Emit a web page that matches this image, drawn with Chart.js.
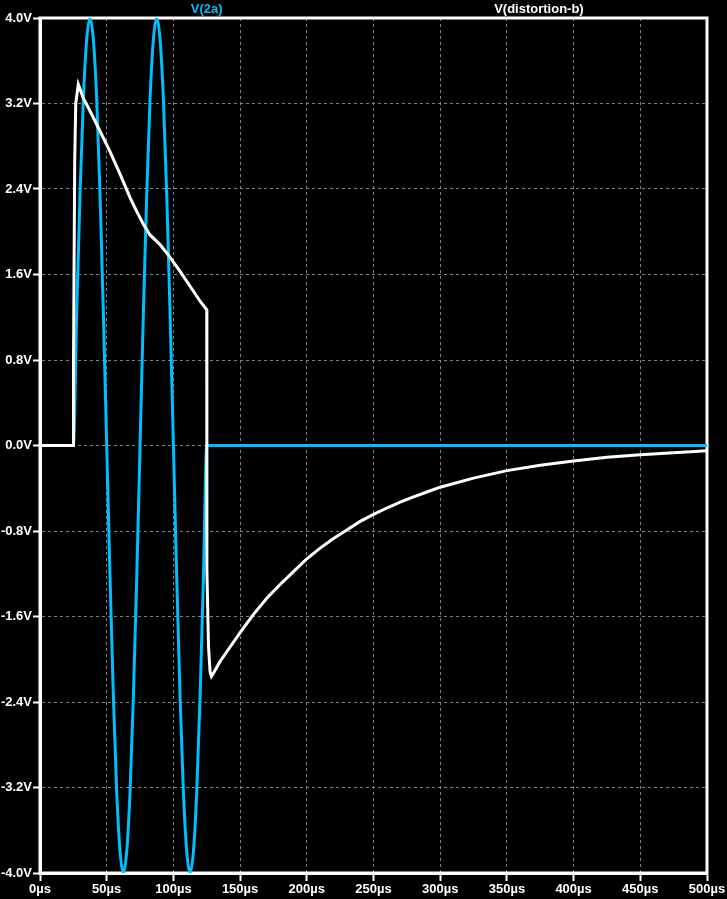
<!DOCTYPE html>
<html>
<head>
<meta charset="utf-8">
<script src="https://cdn.jsdelivr.net/npm/chart.js@4.4.1/dist/chart.umd.min.js"></script>
<style>
  html, body { margin: 0; padding: 0; background: #000; overflow: hidden; }
  canvas { display: block; }
</style>
</head>
<body>
<canvas id="myChart" width="727" height="899"></canvas>
<script>
// trace names (legend text at the top)
const traceNames = ['V(2a)', 'V(distortion-b)'];

// V(distortion-b), white trace: time (µs) and volts
const whiteTime = [0, 24.9, 25, 25.2, 26, 26.8, 28.7, 32.5, 37.5, 45, 52.5, 60, 67.5, 72.5, 77.5,
    82.5, 90, 97.5, 105, 112.5, 120, 125, 125.1, 126.3, 127.5, 128.5, 130, 135, 140, 150, 160, 170,
    180, 190, 200, 210, 220, 230, 240, 250, 260, 270, 280, 290, 300, 325, 350, 375, 400, 425, 450,
    475, 500];
const whiteVolts = [0, 0, 0.74, 0.75, 2.65, 3.2, 3.38, 3.25, 3.13, 2.94, 2.75, 2.54, 2.32, 2.19, 2.07,
    1.97, 1.88, 1.76, 1.63, 1.49, 1.35, 1.27, -1.16, -1.88, -2.12, -2.16, -2.13, -2.02, -1.93, -1.75,
    -1.58, -1.43, -1.30, -1.18, -1.06, -0.96, -0.87, -0.79, -0.71, -0.645, -0.585, -0.53, -0.48,
    -0.435, -0.39, -0.305, -0.235, -0.185, -0.145, -0.11, -0.087, -0.067, -0.05];

// V(2a), blue trace: time (µs) and volts
const blueTime = [0, 25, 27.5, 30, 32.5, 35, 37.5, 40, 42.5, 45, 47.5, 50, 52.5, 55, 57.5, 60, 62.5,
    65, 67.5, 70, 72.5, 75, 77.5, 80, 82.5, 85, 87.5, 90, 92.5, 95, 97.5, 100, 102.5, 105, 107.5,
    110, 112.5, 115, 117.5, 120, 122.5, 125, 500];
const blueVolts = [0, 0, 1.24, 2.35, 3.24, 3.8, 4.0, 3.8, 3.24, 2.35, 1.24, 0, -1.24, -2.35, -3.24,
    -3.8, -4.0, -3.8, -3.24, -2.35, -1.24, 0, 1.24, 2.35, 3.24, 3.8, 4.0, 3.8, 3.24, 2.35, 1.24, 0,
    -1.24, -2.35, -3.24, -3.8, -4.0, -3.8, -3.24, -2.35, -1.24, 0, 0];

// axis ticks
const xTicks = [0, 50, 100, 150, 200, 250, 300, 350, 400, 450, 500];
const yTicks = [-4.0, -3.2, -2.4, -1.6, -0.8, 0.0, 0.8, 1.6, 2.4, 3.2, 4.0];

const blueColor = '#00bfff';
const gridColor = '#808080';
const labelFont = { family: '"Liberation Sans", Arial, sans-serif', size: 13, weight: 'bold' };

function toPoints(xs, ys) {
    return xs.map((x, i) => ({ x: x, y: ys[i] }));
}

// white box around the plot area
const framePlugin = {
    id: 'frame',
    beforeDatasetsDraw(chart) {
        const a = chart.chartArea;
        const c = chart.ctx;
        c.save();
        c.strokeStyle = '#fff';
        c.lineWidth = 3;
        c.strokeRect(a.left, a.top, a.right - a.left, a.bottom - a.top);
        c.restore();
    }
};

// trace names over the plot, LTspice style
const traceNamePlugin = {
    id: 'traceNames',
    afterDraw(chart) {
        const a = chart.chartArea;
        const c = chart.ctx;
        const w = a.right - a.left;
        c.save();
        c.font = `bold ${labelFont.size}px ${labelFont.family}`;
        c.textAlign = 'center';
        c.textBaseline = 'middle';
        c.fillStyle = blueColor;
        c.fillText(traceNames[0], a.left + w * 0.25, 9);
        c.fillStyle = '#fff';
        c.fillText(traceNames[1], a.left + w * 0.748, 9);
        c.restore();
    }
};

const ctx = document.getElementById('myChart').getContext('2d');
const chart = new Chart(ctx, {
    type: 'line',
    data: {
        datasets: [
            {
                label: traceNames[1],
                data: toPoints(whiteTime, whiteVolts),
                borderColor: '#fff',
                borderWidth: 3,
                pointRadius: 0,
                tension: 0,
                fill: false
            },
            {
                label: traceNames[0],
                data: toPoints(blueTime, blueVolts),
                borderColor: blueColor,
                borderWidth: 3,
                pointRadius: 0,
                cubicInterpolationMode: 'monotone',
                fill: false
            }
        ]
    },
    options: {
        responsive: false,
        animation: false,
        layout: { padding: { top: 18, right: 20, left: 0, bottom: 0 } },
        plugins: {
            legend: { display: false },
            tooltip: { enabled: false }
        },
        scales: {
            x: {
                type: 'linear',
                min: 0,
                max: 500,
                afterBuildTicks: s => { s.ticks = xTicks.map(v => ({ value: v })); },
                afterFit: s => { s.height = 26; s.paddingLeft = 0; s.paddingRight = 0; },
                grid: { color: gridColor, lineWidth: 1, tickLength: 8, tickColor: '#fff', tickWidth: 2 },
                border: { color: '#fff', width: 3, dash: [3, 3] },
                ticks: {
                    color: '#fff',
                    font: labelFont,
                    padding: 1,
                    maxRotation: 0,
                    autoSkip: false,
                    callback: v => v + 'µs'
                }
            },
            y: {
                type: 'linear',
                min: -4,
                max: 4,
                afterBuildTicks: s => { s.ticks = yTicks.map(v => ({ value: v })); },
                afterFit: s => { s.width = 40; s.paddingTop = 0; s.paddingBottom = 0; },
                grid: { color: gridColor, lineWidth: 1, tickLength: 7, tickColor: '#fff', tickWidth: 2 },
                border: { color: '#fff', width: 3, dash: [3, 3] },
                ticks: {
                    color: '#fff',
                    font: labelFont,
                    padding: 1,
                    autoSkip: false,
                    callback: v => (Math.abs(v) < 1e-9 ? 0 : v).toFixed(1) + 'V'
                }
            }
        }
    },
    plugins: [framePlugin, traceNamePlugin]
});
</script>
</body>
</html>
